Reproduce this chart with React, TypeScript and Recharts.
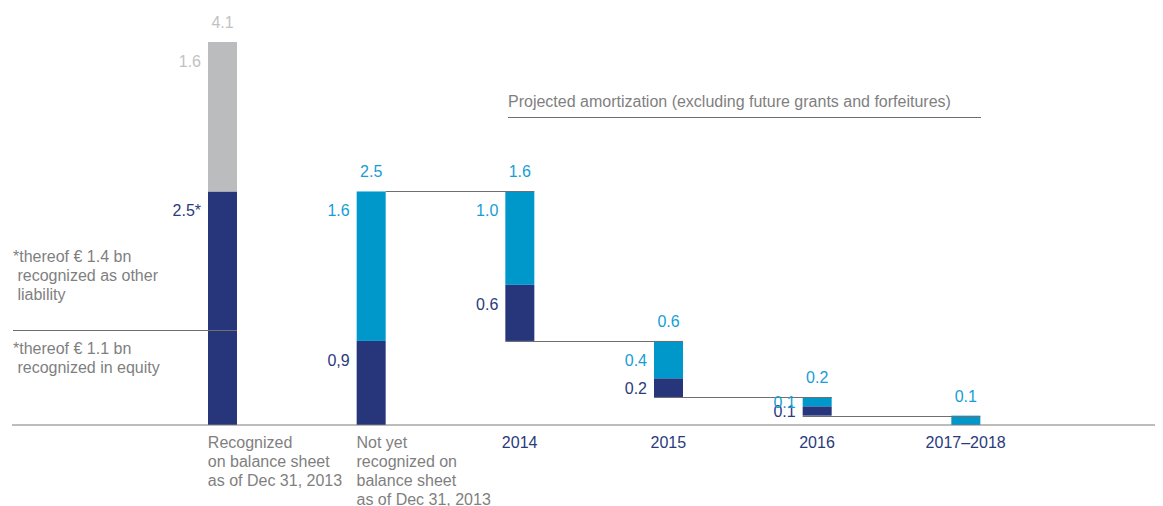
import { Bar, BarChart, XAxis, YAxis } from "recharts";

// categories on the x axis
const categories = [
  "Recognized\non balance sheet\nas of Dec 31, 2013",
  "Not yet\nrecognized on\nbalance sheet\nas of Dec 31, 2013",
  "2014",
  "2015",
  "2016",
  "2017–2018",
];

// invisible floor of each waterfall step (€ bn)
const baseValues = [0, 0, 0.9, 0.3, 0.1, 0];
// dark navy part
const navyValues = [2.5, 0.9, 0.6, 0.2, 0.1, 0];
// light blue part
const blueValues = [0, 1.6, 1.0, 0.4, 0.1, 0.1];
// grey part
const greyValues = [1.6, 0, 0, 0, 0, 0];

const navyLabels = ["2.5*", "0,9", "0.6", "0.2", "0.1", ""];
const blueLabels = ["", "1.6", "1.0", "0.4", "0.1", ""];
const greyLabels = ["1.6", "", "", "", "", ""];
const totalLabels = ["4.1", "2.5", "1.6", "0.6", "0.2", "0.1"];

const NAVY = "#27357a";
const BLUE = "#0098cb";
const GREY = "#bbbcbe";
const NAVY_TEXT = "#2b3a7c";
const BLUE_TEXT = "#169dd5";
const GREY_TEXT = "#c2c2c2";
const TEXT = "#7f7f7f";
const LINE = "#6f6f6f";

const W = 1155;
const H = 498;
const MARGIN = { top: 34, right: 0, left: 4, bottom: 0 };
const PAD_L = 136;
const PAD_R = 123;
const BAND = (W - MARGIN.left - MARGIN.right - PAD_L - PAD_R) / categories.length;
const FONT = "'Liberation Sans', Arial, sans-serif";
const FS = 16;

const data = categories.map((name, i) => ({
  name,
  base: baseValues[i],
  navy: navyValues[i],
  blue: blueValues[i],
  grey: greyValues[i],
}));

// which series is the top of the stack for bar i
const topKey = (i: number) => (greyValues[i] > 0 ? "grey" : "blue");

function makeShape(key: string, fill: string, labels: string[], textColor: string) {
  return (p: any) => {
    const { x, y, width, height, index } = p;
    if (!height || height <= 0) return <g />;
    const off = Math.min(height / 2, 19);
    const ly = Math.round(y) + 0.5;
    const from = index === 2 ? x - BAND + width : x - BAND;
    return (
      <g>
        <rect x={x} y={y} width={width} height={height} fill={fill} />
        {key === "blue" && index >= 2 && (
          <line x1={from} x2={x + width} y1={ly} y2={ly} stroke={LINE} strokeWidth={1} />
        )}
        {labels[index] && (
          <text
            x={x - 7}
            y={y + off + 6}
            textAnchor="end"
            fill={textColor}
            fontSize={FS}
            fontFamily={FONT}
          >
            {labels[index]}
          </text>
        )}
        {topKey(index) === key && (
          <text
            x={x + width / 2}
            y={y - 14}
            textAnchor="middle"
            fill={key === "grey" ? GREY_TEXT : BLUE_TEXT}
            fontSize={FS}
            fontFamily={FONT}
          >
            {totalLabels[index]}
          </text>
        )}
      </g>
    );
  };
}

function CategoryTick(p: any) {
  const { x, y, payload } = p;
  const i = payload.index;
  const lines = String(payload.value).split("\n");
  const isYear = i >= 2;
  const tx = isYear ? x : x - 14.5;
  return (
    <text
      x={tx}
      y={y + 15}
      textAnchor={isYear ? "middle" : "start"}
      fill={isYear ? NAVY_TEXT : TEXT}
      fontSize={FS}
      fontFamily={FONT}
    >
      {lines.map((l, k) => (
        <tspan key={k} x={tx} dy={k === 0 ? 0 : 19}>
          {l}
        </tspan>
      ))}
    </text>
  );
}

const noteStyle: React.CSSProperties = {
  position: "absolute",
  fontSize: FS,
  lineHeight: "19px",
  color: TEXT,
  whiteSpace: "pre",
  fontFamily: FONT,
};

export default function App() {
  return (
    <div style={{ position: "relative", width: W, height: H, fontFamily: FONT }}>
      <BarChart width={W} height={H} data={data} margin={MARGIN}>
        <XAxis
          dataKey="name"
          padding={{ left: PAD_L, right: PAD_R }}
          height={81}
          tickLine={false}
          axisLine={{ stroke: "#7a7a7a" }}
          tick={<CategoryTick />}
          interval={0}
        />
        <YAxis hide type="number" domain={[0, 4.1]} />
        <Bar dataKey="base" stackId="a" fill="transparent" barSize={29} isAnimationActive={false} />
        <Bar
          dataKey="navy"
          stackId="a"
          barSize={29}
          shape={makeShape("navy", NAVY, navyLabels, NAVY_TEXT)}
          isAnimationActive={false}
        />
        <Bar
          dataKey="blue"
          stackId="a"
          barSize={29}
          shape={makeShape("blue", BLUE, blueLabels, BLUE_TEXT)}
          isAnimationActive={false}
        />
        <Bar
          dataKey="grey"
          stackId="a"
          barSize={29}
          shape={makeShape("grey", GREY, greyLabels, GREY_TEXT)}
          isAnimationActive={false}
        />
      </BarChart>

      {/* notes on the left */}
      <div style={{ ...noteStyle, left: 5, top: 239 }}>
        {"*thereof € 1.4 bn\n recognized as other\n liability"}
      </div>
      <div
        style={{ position: "absolute", left: 5, top: 322, width: 224, borderTop: `1px solid ${LINE}` }}
      />
      <div style={{ ...noteStyle, left: 5, top: 331 }}>
        {"*thereof € 1.1 bn\n recognized in equity"}
      </div>

      <div style={{ ...noteStyle, left: 500, top: 84 }}>
        Projected amortization (excluding future grants and forfeitures)
      </div>
      <div
        style={{ position: "absolute", left: 500, top: 109, width: 473, borderTop: `1px solid ${LINE}` }}
      />
    </div>
  );
}
